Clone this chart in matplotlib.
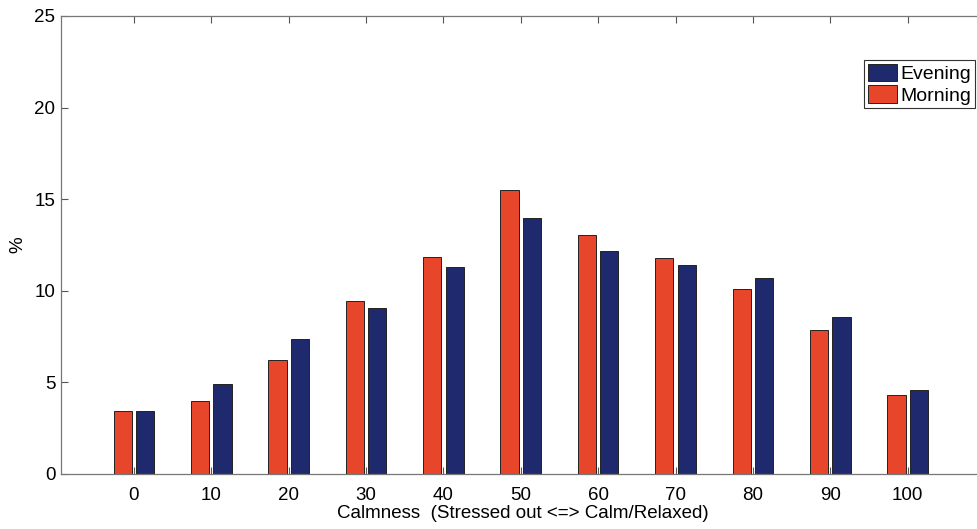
import matplotlib
matplotlib.use("Agg")
import matplotlib.pyplot as plt
import numpy as np

plt.rcParams["font.family"] = ["Liberation Sans", "DejaVu Sans"]

calmness = [0, 10, 20, 30, 40, 50, 60, 70, 80, 90, 100]
morning = [3.45, 4.0, 6.22, 9.44, 11.83, 15.5, 13.06, 11.77, 10.1, 7.84, 4.31]
evening = [3.45, 4.9, 7.37, 9.05, 11.32, 13.97, 12.17, 11.41, 10.68, 8.59, 4.6]

RED = "#e8462a"
BLUE = "#1f2a6e"

W, H = 977, 529
fig = plt.figure(figsize=(W / 100, H / 100), dpi=100)
ax = fig.add_axes([61 / W, 55 / H, (985 - 61) / W, 458 / H])

x = np.arange(1, len(calmness) + 1)
bw = 0.235
ax.bar(x - 0.145, morning, bw, color=RED, edgecolor="#222222", linewidth=0.7, label="Morning")
ax.bar(x + 0.145, evening, bw, color=BLUE, edgecolor="#222222", linewidth=0.7, label="Evening")

ax.set_xlim(0.057, 12)
ax.set_ylim(0, 25)
ax.set_xticks(x)
ax.set_xticklabels([str(c) for c in calmness])
ax.set_yticks([0, 5, 10, 15, 20, 25])
ax.tick_params(direction="in", top=True, right=True, labelsize=13.5, length=5, color="#555555")
ax.tick_params(axis="x", pad=9)
ax.tick_params(axis="y", pad=4)
for s in ax.spines.values():
    s.set_color("#777777")
    s.set_linewidth(0.9)

ax.set_xlabel("Calmness  (Stressed out <=> Calm/Relaxed)", fontsize=13.5, labelpad=1)
fig.text(18 / W, 1 - 245 / H, "%", rotation=90, ha="center", va="center", fontsize=13.5)

handles, labels = ax.get_legend_handles_labels()
leg = ax.legend(handles[::-1], labels[::-1], loc="upper right",
                bbox_to_anchor=(975 / W, 1 - 60 / H), bbox_transform=fig.transFigure,
                borderaxespad=0, fontsize=14, fancybox=False, framealpha=1,
                handlelength=1.5, handleheight=1.0, handletextpad=0.15,
                borderpad=0.2, labelspacing=0.1)
leg.get_frame().set_edgecolor("#333333")
leg.get_frame().set_linewidth(0.8)

fig.savefig("out.png", dpi=100)
